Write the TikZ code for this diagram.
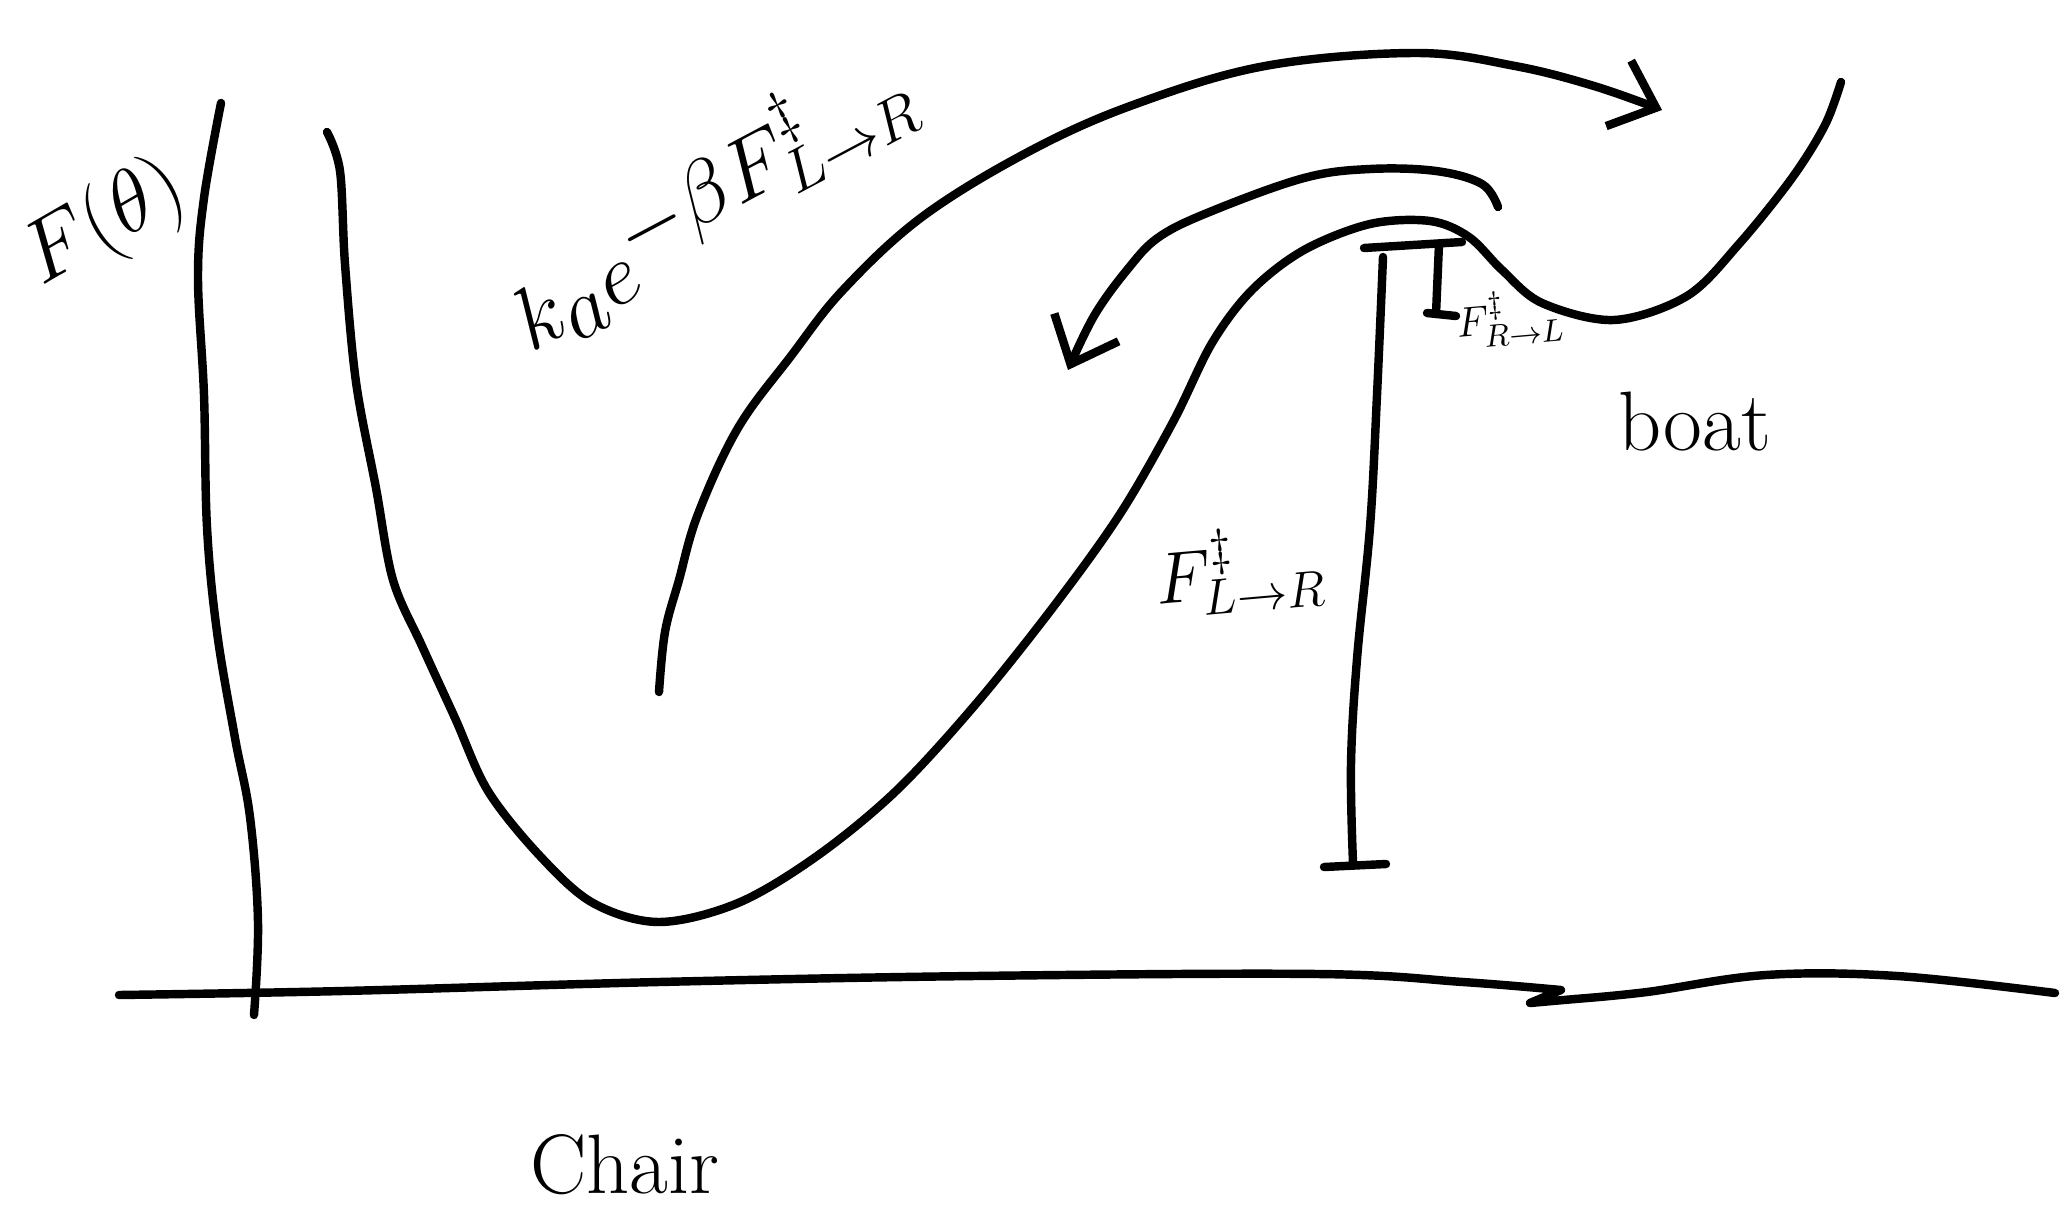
\documentclass[tikz,border=0pt]{standalone}
\usetikzlibrary{arrows.meta}
\tikzset{
    pen/.style={line width=2.4pt,line cap=round,line join=round},
    barb/.style={-{Straight Barb[length=4mm,width=7mm,line width=2.4pt]}},
    hand/.style={inner sep=0pt},
}
\begin{document}
\begin{tikzpicture}[x=0.01cm,y=-0.01cm]
    \useasboundingbox (0,0) rectangle (2066,1215);
% Axes
    % F axis
    \draw[pen] plot[smooth,tension=0.6] coordinates {(221,103) (204,198) (198,277) (204,395) (207,527) (217,632) (235,738) (250,817) (258,922) (254,1015)};
    % theta axis
    \draw[pen] plot[smooth,tension=0.6] coordinates {(119,995) (343,991) (659,982) (975,976) (1318,974) (1463,982) (1561,990)}
        -- (1530,1003) -- (1575,999);
    \draw[pen] plot[smooth,tension=0.6] coordinates {(1575,999) (1647,992) (1766,975) (1897,976) (2055,993)};
% Free energy
    \draw[pen] plot[smooth,tension=0.55] coordinates {(327,132) (340,171) (345,264) (356,382) (376,488) (393,580) (422,646) (455,718) (488,791) (540,856) (593,903) (659,922) (738,903) (817,856) (896,791) (975,705) (1054,606) (1120,514) (1173,422) (1212,343) (1252,290) (1304,250) (1370,224) (1430,221) (1469,237) (1502,270) (1542,303) (1614,320) (1687,296) (1739,244) (1792,178) (1825,125) (1841,82)};
% Rates
    % left to right
    \draw[pen,barb] plot[smooth,tension=0.6] coordinates {(659,692) (665,632) (679,580) (698,514) (738,428) (791,356) (843,290) (922,217) (1028,152) (1133,105) (1265,66) (1416,53) (1515,66) (1594,86) (1662,110)};
    % right to left
    \draw[pen,barb] plot[smooth,tension=0.6] coordinates {(1498,207) (1482,184) (1436,171) (1370,169) (1304,178) (1212,211) (1159,237) (1127,270) (1094,316) (1068,370)};
% Barriers
    \draw[pen] (1364,248) -- (1462,242);
    \draw[pen] plot[smooth,tension=0.6] coordinates {(1383,257) (1377,395) (1370,527) (1357,659) (1351,764) (1353,863)};
    \draw[pen] (1324,867) -- (1386,864);
    \draw[pen] (1439,244) -- (1436,314);
    \draw[pen] (1427,313) -- (1456,316);
% Labels
    \node[hand,rotate=30] (ftheta) at (105,225) {\fontsize{30}{30}\selectfont$F(\theta)$};
    \node[hand,rotate=28] (rate) at (710,200) {\fontsize{33}{33}\selectfont$k_a e^{-\beta F^{\ddagger}_{L\to R}}$};
    \node[hand,rotate=5] (flr) at (1240,570) {\fontsize{22}{22}\selectfont$F^{\ddagger}_{L\to R}$};
    \node[hand,rotate=5] (frl) at (1510,318) {\fontsize{13}{13}\selectfont$F^{\ddagger}_{R\to L}$};
    \node[hand] (boat) at (1695,422) {\fontsize{24}{24}\selectfont boat};
    \node[hand] (chair) at (625,1165) {\fontsize{24}{24}\selectfont Chair};
\end{tikzpicture}
\end{document}
